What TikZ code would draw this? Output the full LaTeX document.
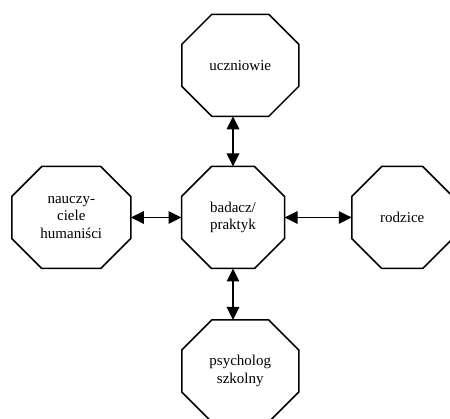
\documentclass[tikz,border=0pt]{standalone}
\usepackage{fontspec}
\setmainfont{Liberation Serif}
\usetikzlibrary{arrows.meta}
\tikzset{
  octnode/.style={draw=none, minimum width=#1, minimum height=102pt, inner sep=0pt, outer sep=0pt,
    align=center, font=\fontsize{15}{17.7}\selectfont},
  octline/.style={line width=1.5pt, line join=miter},
  biarrow/.style={line width=1.4pt, {Triangle[length=13pt,width=12.5pt]}-{Triangle[length=13pt,width=12.5pt]}}
}
\newcommand\octpath[1]{%
  \draw[octline] ([xshift=30pt]#1.north west) -- ([xshift=-30pt]#1.north east)
    -- ([yshift=-30pt]#1.north east) -- ([yshift=30pt]#1.south east)
    -- ([xshift=-30pt]#1.south east) -- ([xshift=30pt]#1.south west)
    -- ([yshift=30pt]#1.south west) -- ([yshift=-30pt]#1.north west) -- cycle;}
\begin{document}
\begin{tikzpicture}[x=1pt,y=-1pt]
\clip (0,0) rectangle (450,419);
\fill[white] (0,0) rectangle (450,419);
\node[octnode=117pt] (t) at (240.3,65.3) {uczniowie};
\node[octnode=103pt] (c) at (233,217.5) {badacz/\\praktyk};
\node[octnode=119pt] (l) at (71.3,217.5) {nauczy-\\ciele\\humaniści};
\node[octnode=101pt] (r) at (402.3,217.5) {rodzice};
\node[octnode=117pt] (b) at (240.3,371) {psycholog\\szkolny};
\octpath{t}
\octpath{c}
\octpath{l}
\octpath{r}
\octpath{b}
\draw[biarrow] (c.north) -- (c.north |- t.south);
\draw[biarrow] (c.south) -- (c.south |- b.north);
\draw[biarrow] (c.west) -- (l.east);
\draw[biarrow] (c.east) -- (r.west);
\end{tikzpicture}
\end{document}
